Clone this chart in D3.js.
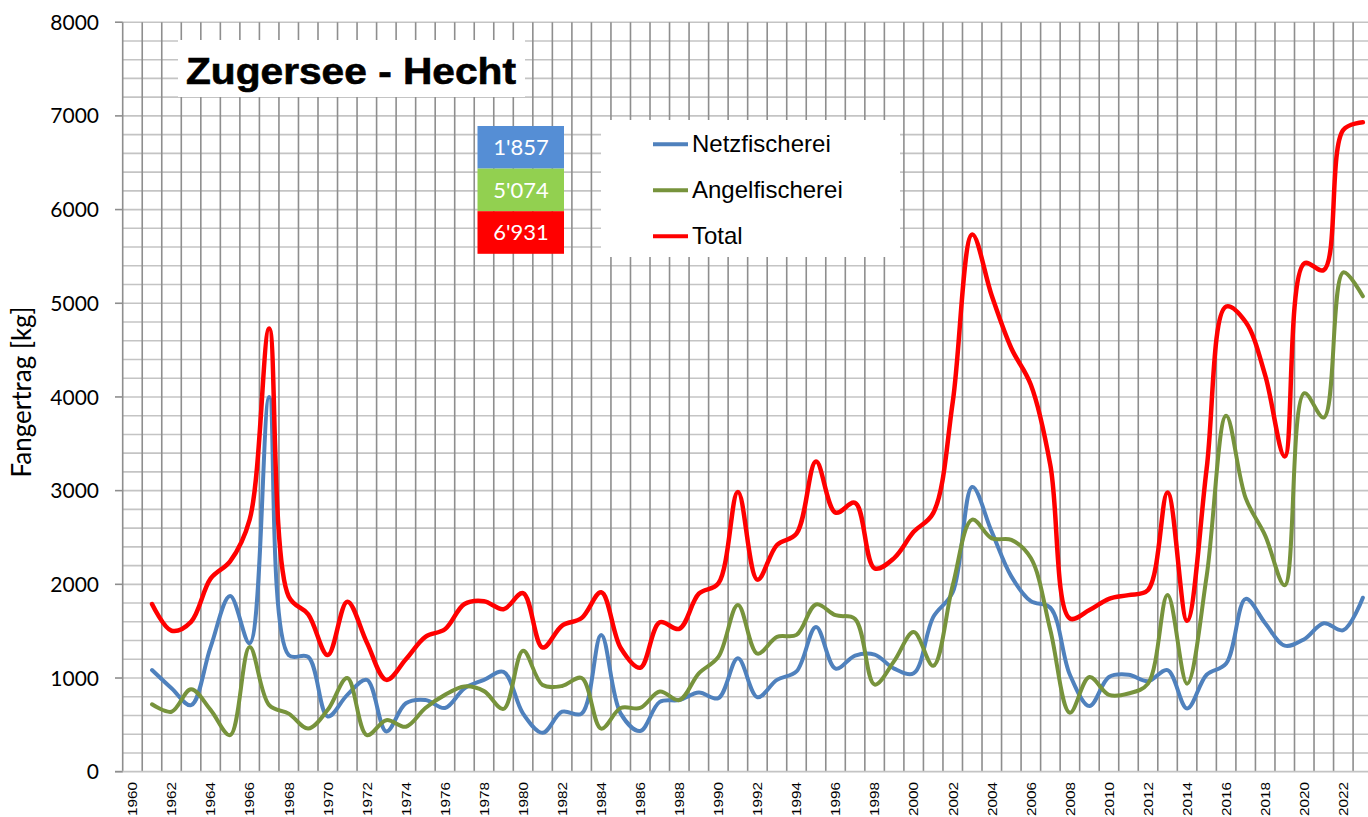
<!DOCTYPE html>
<html>
<head>
<meta charset="utf-8">
<script src="https://cdn.jsdelivr.net/npm/d3@7.9.0/dist/d3.min.js"></script>
<style>
  html, body { margin: 0; padding: 0; background: #fff; }
  svg { display: block; }
</style>
</head>
<body>
<svg id="chart" width="1368" height="817"></svg>
<script>
// Fangertrag Zugersee - Hecht, 1961..2023 (kg)
const years = d3.range(1961, 2024);

const netzfischerei = [
  1085, 890, 710, 1330, 1875, 1370, 4000, 1245, 1225, 590,
  820, 980, 430, 730, 765, 680, 890, 980, 1065, 620,
  415, 640, 620, 1460, 620, 435, 745, 765, 845, 785,
  1210, 795, 980, 1070, 1545, 1100, 1240, 1250, 1100, 1050,
  1650, 1915, 3040, 2560, 2085, 1820, 1750, 1035, 700, 1010,
  1035, 965, 1085, 675, 1035, 1155, 1845, 1585, 1345, 1415,
  1585, 1510, 1857
];

const angelfischerei = [
  720, 640, 880, 660, 390, 1330, 710, 620, 460, 660,
  1000, 390, 550, 480, 680, 820, 910, 860, 670, 1290,
  925, 915, 1000, 460, 680, 680, 855, 765, 1050, 1225,
  1780, 1260, 1440, 1460, 1785, 1670, 1630, 930, 1180, 1490,
  1130, 1990, 2690, 2490, 2475, 2280, 1510, 630, 1010, 820,
  835, 940, 1885, 940, 2085, 3800, 2920, 2520, 1990, 4040,
  3780, 5330, 5074
];

const total = [
  1790, 1505, 1600, 2060, 2245, 2690, 4730, 1870, 1680, 1245,
  1815, 1380, 980, 1200, 1440, 1520, 1790, 1820, 1735, 1905,
  1325, 1560, 1640, 1915, 1320, 1110, 1595, 1525, 1900, 2010,
  2985, 2050, 2420, 2540, 3310, 2765, 2870, 2170, 2280, 2560,
  2760, 3945, 5735, 5080, 4520, 4130, 3270, 1635, 1725, 1845,
  1885, 1940, 2980, 1610, 3230, 4965, 4800, 4230, 3365, 5425,
  5355, 6850, 6931
];

const xLabels = d3.range(1960, 2023, 2);
const yTicks = d3.range(0, 8001, 1000);

const seriesNames = ["Netzfischerei", "Angelfischerei", "Total"];
const seriesColors = ["#4f81bd", "#77933c", "#ff0000"];
const boxValues = ["1'857", "5'074", "6'931"];
const boxColors = ["#558ed5", "#92d050", "#ff0000"];

const svg = d3.select("#chart");

const plotLeft = 122.7, bandW = 19.53, plotTop = 22.2, plotBottom = 771.7;
const x = d3.scaleLinear().domain([1959.5, 2023.5]).range([plotLeft, plotLeft + 64 * bandW]);
const y = d3.scaleLinear().domain([0, 8000]).range([plotBottom, plotTop]);

// horizontal grid (every 200)
svg.append("g")
  .selectAll("line")
  .data(d3.range(200, 8001, 200))
  .join("line")
  .attr("x1", plotLeft).attr("x2", 1368)
  .attr("y1", d => y(d)).attr("y2", d => y(d))
  .attr("stroke", "#c4c4c4")
  .attr("stroke-width", 1.6);

// vertical grid (category borders)
svg.append("g")
  .selectAll("line")
  .data(d3.range(1960, 2024))
  .join("line")
  .attr("x1", d => x(d + 0.5)).attr("x2", d => x(d + 0.5))
  .attr("y1", plotTop).attr("y2", plotBottom)
  .attr("stroke", "#8e8e8e")
  .attr("stroke-width", 1.6);

// axes
svg.append("line")
  .attr("x1", plotLeft).attr("x2", plotLeft).attr("y1", plotTop).attr("y2", plotBottom)
  .attr("stroke", "#8e8e8e").attr("stroke-width", 1.6);
svg.append("line")
  .attr("x1", 115).attr("x2", 1368).attr("y1", plotBottom).attr("y2", plotBottom)
  .attr("stroke", "#c4c4c4").attr("stroke-width", 1.8);

svg.append("g")
  .selectAll("line")
  .data(yTicks)
  .join("line")
  .attr("x1", 115).attr("x2", plotLeft)
  .attr("y1", d => y(d)).attr("y2", d => y(d))
  .attr("stroke", "#8e8e8e").attr("stroke-width", 1.6);

svg.append("g")
  .selectAll("text")
  .data(yTicks)
  .join("text")
  .attr("x", 99)
  .attr("y", d => y(d))
  .attr("dy", "0.36em")
  .attr("text-anchor", "end")
  .attr("font-family", "Lato, sans-serif")
  .attr("font-size", 21)
  .attr("fill", "#000")
  .text(d => d);

svg.append("g")
  .selectAll("text")
  .data(xLabels)
  .join("text")
  .attr("transform", d => `translate(${x(d) + 4.8},782) rotate(-90)`)
  .attr("text-anchor", "end")
  .attr("font-family", "Arial, 'Liberation Sans', sans-serif")
  .attr("font-size", 13.5)
  .attr("textLength", 34)
  .attr("lengthAdjust", "spacingAndGlyphs")
  .attr("fill", "#000")
  .text(d => d);

svg.append("text")
  .attr("transform", "translate(31,392) rotate(-90)")
  .attr("text-anchor", "middle")
  .attr("font-family", "Lato, sans-serif")
  .attr("font-size", 26)
  .attr("fill", "#000")
  .text("Fangertrag [kg]");

// smoothed lines
const line = d3.line()
  .x(d => x(d[0]))
  .y(d => y(d[1]))
  .curve(d3.curveCatmullRom.alpha(0.5));

[netzfischerei, angelfischerei, total].forEach((vals, i) => {
  svg.append("path")
    .datum(years.map((yr, j) => [yr, vals[j]]))
    .attr("d", line)
    .attr("fill", "none")
    .attr("stroke", seriesColors[i])
    .attr("stroke-width", i === 2 ? 4.5 : 4)
    .attr("stroke-linejoin", "round")
    .attr("stroke-linecap", "round");
});

// title
svg.append("rect")
  .attr("x", 178).attr("y", 40).attr("width", 347).attr("height", 57)
  .attr("fill", "#fff");
svg.append("text")
  .attr("x", 186).attr("y", 84)
  .attr("font-family", "Arial, 'Liberation Sans', sans-serif")
  .attr("font-weight", "bold")
  .attr("font-size", 36)
  .attr("textLength", 330)
  .attr("lengthAdjust", "spacingAndGlyphs")
  .attr("stroke", "#000")
  .attr("stroke-width", 0.6)
  .attr("fill", "#000")
  .text("Zugersee - Hecht");

// value boxes
const boxTop = 126, boxH = 42.6;
boxValues.forEach((v, i) => {
  svg.append("rect")
    .attr("x", 477.5).attr("y", boxTop + i * boxH)
    .attr("width", 86.5).attr("height", boxH)
    .attr("fill", boxColors[i]);
  svg.append("text")
    .attr("x", 521).attr("y", boxTop + i * boxH + boxH / 2)
    .attr("dy", "0.36em")
    .attr("text-anchor", "middle")
    .attr("font-family", "Lato, sans-serif")
    .attr("font-size", 22)
    .attr("fill", "#fff")
    .text(v);
});

// legend
svg.append("rect")
  .attr("x", 601).attr("y", 120).attr("width", 299).attr("height", 137)
  .attr("fill", "#fff");
const legendY = [144.3, 190.3, 236.3];
seriesNames.forEach((name, i) => {
  svg.append("line")
    .attr("x1", 653).attr("x2", 688)
    .attr("y1", legendY[i]).attr("y2", legendY[i])
    .attr("stroke", seriesColors[i]).attr("stroke-width", 4);
  svg.append("text")
    .attr("x", 692).attr("y", legendY[i] + 8)
    .attr("font-family", "Arial, 'Liberation Sans', sans-serif")
    .attr("font-size", 24)
    .attr("fill", "#000")
    .text(name);
});
</script>
</body>
</html>
